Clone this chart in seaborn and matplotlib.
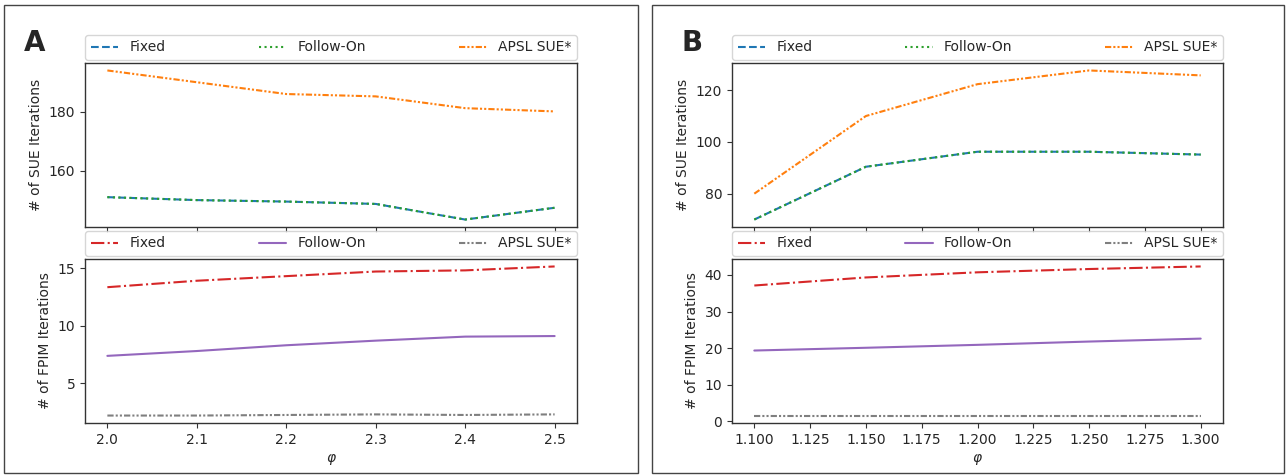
import numpy as np
import pandas as pd
import seaborn as sns
import matplotlib
matplotlib.use("Agg")
import matplotlib.pyplot as plt
from matplotlib.patches import Rectangle

# ---------------- data ----------------
phi_A = [2.0, 2.1, 2.2, 2.3, 2.4, 2.5]
sue_fixed_A = [151, 150, 149.5, 148.7, 143.4, 147.4]
sue_follow_A = [151, 150, 149.5, 148.7, 143.4, 147.4]
sue_apsl_A = [194, 190, 186, 185.2, 181.2, 180.1]
fpim_fixed_A = [13.34, 13.9, 14.3, 14.7, 14.8, 15.14]
fpim_follow_A = [7.38, 7.8, 8.3, 8.7, 9.05, 9.1]
fpim_apsl_A = [2.2, 2.2, 2.25, 2.3, 2.25, 2.3]

phi_B = [1.10, 1.15, 1.20, 1.25, 1.30]
sue_fixed_B = [70, 90.4, 96.2, 96.2, 95.1]
sue_follow_B = [70, 90.4, 96.2, 96.2, 95.1]
sue_apsl_B = [80, 110, 122.3, 127.6, 125.7]
fpim_fixed_B = [37.1, 39.3, 40.7, 41.6, 42.3]
fpim_follow_B = [19.35, 20.1, 20.9, 21.8, 22.6]
fpim_apsl_B = [1.6, 1.6, 1.6, 1.6, 1.6]

series_names = ["Fixed", "Follow-On", "APSL SUE*"]

xticks_A = [2.0, 2.1, 2.2, 2.3, 2.4, 2.5]
xticks_B = [1.100, 1.125, 1.150, 1.175, 1.200, 1.225, 1.250, 1.275, 1.300]
yticks_sue_A = [160, 180]
yticks_fpim_A = [5, 10, 15]
yticks_sue_B = [80, 100, 120]
yticks_fpim_B = [0, 10, 20, 30, 40]

# ---------------- style ----------------
sns.set_style("ticks")
plt.rcParams['font.family'] = ['DejaVu Sans']
plt.rcParams['font.size'] = 10

ddd = (0, (3, 1, 1, 1, 1, 1))
sue_styles = [("#1f77b4", "--"), ("#2ca02c", ":"), ("#ff7f0e", ddd)]
fpim_styles = [("#d62728", "-."), ("#9467bd", "-"), ("#7f7f7f", ddd)]

W, H = 1288, 475
fig = plt.figure(figsize=(W / 100, H / 100), dpi=100)


def px_axes(x0, y0, x1, y1):
    return fig.add_axes([x0 / W, 1 - y1 / H, (x1 - x0) / W, (y1 - y0) / H])


def draw(ax, x, ys, styles, ylabel):
    for name, y, (c, ls) in zip(series_names, ys, styles):
        df = pd.DataFrame({"x": x, "y": y})
        sns.lineplot(data=df, x="x", y="y", ax=ax, color=c, linestyle=ls,
                     linewidth=1.5, label=name)
    ax.legend(loc="lower left", bbox_to_anchor=(0, 1.018, 1, 0.1), mode="expand",
              ncol=3, borderaxespad=0, fontsize=10, framealpha=0.8)
    ax.set_ylabel(ylabel, fontsize=10)
    ax.set_xlabel("")
    for s in ax.spines.values():
        s.set_color("#333333")
        s.set_linewidth(1.0)
    ax.tick_params(labelsize=10, color="#333333")


# Panel frames
fig.patches.append(Rectangle((4 / W, 1 - 473 / H), (638 - 4) / W, (473 - 5) / H,
                             transform=fig.transFigure, fill=False,
                             edgecolor="#444444", linewidth=1.0))
fig.patches.append(Rectangle((652 / W, 1 - 473 / H), (1284 - 652) / W, (473 - 5) / H,
                             transform=fig.transFigure, fill=False,
                             edgecolor="#444444", linewidth=1.0))

# Panel A
axA1 = px_axes(85, 63, 577, 227)
axA2 = px_axes(85, 259, 577, 423)
draw(axA1, phi_A, [sue_fixed_A, sue_follow_A, sue_apsl_A], sue_styles, "# of SUE Iterations")
draw(axA2, phi_A, [fpim_fixed_A, fpim_follow_A, fpim_apsl_A], fpim_styles, "# of FPIM Iterations")
for ax in (axA1, axA2):
    ax.set_xticks(xticks_A)
axA1.set_xticklabels([])
axA2.set_xticklabels([f"{v:.1f}" for v in xticks_A])
axA1.set_yticks(yticks_sue_A)
axA2.set_yticks(yticks_fpim_A)
axA2.set_xlabel(r"$\varphi$", fontsize=10)
axA1.set_xlim(axA2.get_xlim())

# Panel B
axB1 = px_axes(732, 63, 1223, 227)
axB2 = px_axes(732, 259, 1223, 423)
draw(axB1, phi_B, [sue_fixed_B, sue_follow_B, sue_apsl_B], sue_styles, "# of SUE Iterations")
draw(axB2, phi_B, [fpim_fixed_B, fpim_follow_B, fpim_apsl_B], fpim_styles, "# of FPIM Iterations")
for ax in (axB1, axB2):
    ax.set_xticks(xticks_B)
axB1.set_xticklabels([])
axB2.set_xticklabels([f"{v:.3f}" for v in xticks_B])
axB1.set_yticks(yticks_sue_B)
axB2.set_yticks(yticks_fpim_B)
axB2.set_xlabel(r"$\varphi$", fontsize=10)

fig.text(35 / W, 1 - 43 / H, "A", fontsize=20, fontweight="bold", ha="center", va="center")
fig.text(692 / W, 1 - 43 / H, "B", fontsize=20, fontweight="bold", ha="center", va="center")

fig.savefig("out.png", dpi=100, facecolor="white")
